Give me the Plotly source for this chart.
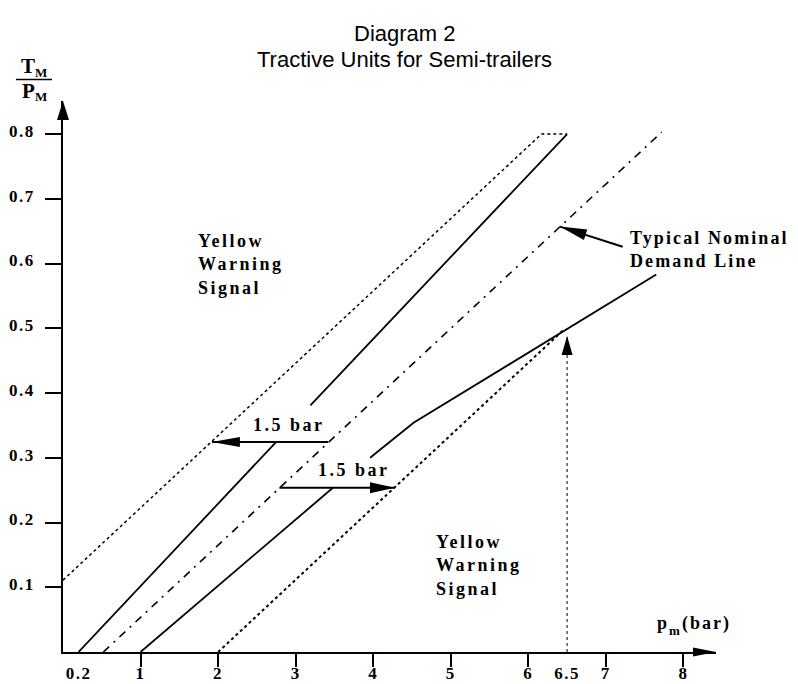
import math
import plotly.graph_objects as go

# ---------------- data ----------------
x_ticks = [1, 2, 3, 4, 5, 6, 7, 8]
x_tick_labels = ["1", "2", "3", "4", "5", "6", "7", "8"]
x_extra_ticks = [0.2, 6.5]
x_extra_labels = ["0.2", "6.5"]
y_ticks = [0.1, 0.2, 0.3, 0.4, 0.5, 0.6, 0.7, 0.8]
y_tick_labels = ["0.1", "0.2", "0.3", "0.4", "0.5", "0.6", "0.7", "0.8"]

x_axis_end = 8.42     # p_m axis arrow tip (bar)
y_axis_end = 0.851    # TM/PM axis arrow tip

upper_dotted_x = [0.0, 6.17, 6.5]
upper_dotted_y = [0.111, 0.8, 0.8]
upper_solid_x = [0.2, 2.75, None, 3.19, 6.5]
upper_solid_y = [0.0, 0.3245, None, 0.381, 0.8]
demand_x = [0.52, 7.72]
demand_y = [0.0, 0.803]
lower_solid_x = [1.0, 3.48, None, 3.96, 4.52, 7.65]
lower_solid_y = [0.0, 0.2536, None, 0.30, 0.354, 0.583]
lower_dotted_x = [2.0, 6.45]
lower_dotted_y = [0.0, 0.497]
pm_limit_x = [6.5, 6.5]
pm_limit_y = [0.0, 0.488]

# arrows: [tail, tip]
arrow_upper_x = [3.42, 1.92]
arrow_upper_y = [0.3245, 0.3245]
arrow_lower_x = [2.79, 4.28]
arrow_lower_y = [0.2536, 0.2536]
demand_arrow_x = [7.216, 6.407]
demand_arrow_y = [0.626, 0.657]

title_lines = ["Diagram 2", "Tractive Units for Semi-trailers"]
bar_label = "1.5 bar"
yellow_label = ["Yellow", "Warning", "Signal"]
demand_label = ["Typical Nominal", "Demand Line"]

# ---------------- geometry (page pixels) ----------------
PAGE_OFF = 8                 # default body margin of the html page
W, H = 798 - PAGE_OFF, 684 - PAGE_OFF
PL, PT = 63, 101             # plot-area left / top on the page
PW, PH = 653, 551            # plot-area size


def to_px(x, y):
    return PL + x / x_axis_end * PW, PT + PH - y / y_axis_end * PH


def px_to_paper(px, py):
    return (px - PL) / PW, (PT + PH - py) / PH


def head_shape(tail_x, tail_y, tip_x, tip_y, length, width):
    tx, ty = to_px(tip_x, tip_y)
    fx, fy = to_px(tail_x, tail_y)
    dx, dy = tx - fx, ty - fy
    n = math.hypot(dx, dy)
    ux, uy = dx / n, dy / n
    bx, by = tx - ux * length, ty - uy * length
    nx, ny = -uy, ux
    pts = [(tx, ty), (bx + nx * width / 2, by + ny * width / 2),
           (bx - nx * width / 2, by - ny * width / 2)]
    pp = [px_to_paper(a, b) for a, b in pts]
    path = "M{:.5f},{:.5f} L{:.5f},{:.5f} L{:.5f},{:.5f} Z".format(
        pp[0][0], pp[0][1], pp[1][0], pp[1][1], pp[2][0], pp[2][1])
    return dict(type="path", xref="paper", yref="paper", path=path,
                fillcolor="black", line=dict(width=0), layer="above")


def spaced(lines, sp=2.5, size=18):
    return "<br>".join(
        '<span style="letter-spacing:{}px;font-size:{}px">{}</span>'.format(sp, size, t)
        for t in lines)


def serif(size):
    return dict(family="Liberation Serif", size=size, color="black", weight="bold")


BOLD = serif(18)

fig = go.Figure()

fig.add_trace(go.Scatter(x=upper_dotted_x, y=upper_dotted_y, mode="lines",
                         line=dict(color="black", width=1.5, dash="dot")))
fig.add_trace(go.Scatter(x=upper_solid_x, y=upper_solid_y, mode="lines",
                         line=dict(color="black", width=1.8)))
fig.add_trace(go.Scatter(x=demand_x, y=demand_y, mode="lines",
                         line=dict(color="black", width=1.6, dash="8px,6px,2px,6px")))
fig.add_trace(go.Scatter(x=lower_solid_x, y=lower_solid_y, mode="lines",
                         line=dict(color="black", width=1.8)))
fig.add_trace(go.Scatter(x=lower_dotted_x, y=lower_dotted_y, mode="lines",
                         line=dict(color="black", width=2, dash="dot")))
fig.add_trace(go.Scatter(x=pm_limit_x, y=pm_limit_y, mode="lines", xaxis="x2",
                         line=dict(color="black", width=1, dash="dot")))
for ax_, ay_ in [(arrow_upper_x, arrow_upper_y), (arrow_lower_x, arrow_lower_y),
                 (demand_arrow_x, demand_arrow_y)]:
    fig.add_trace(go.Scatter(x=ax_, y=ay_, mode="lines",
                             line=dict(color="black", width=2)))

shapes = [
    head_shape(x_axis_end - 0.3, 0, x_axis_end, 0, 23, 9),
    head_shape(0, y_axis_end - 0.03, 0, y_axis_end, 19, 12),
    head_shape(arrow_upper_x[0], arrow_upper_y[0], arrow_upper_x[1], arrow_upper_y[1], 28, 10),
    head_shape(arrow_lower_x[0], arrow_lower_y[0], arrow_lower_x[1], arrow_lower_y[1], 25, 11),
    head_shape(demand_arrow_x[0], demand_arrow_y[0], demand_arrow_x[1], demand_arrow_y[1], 27, 11),
    head_shape(pm_limit_x[0], pm_limit_y[0], pm_limit_x[1], pm_limit_y[1], 19, 11),
]
# fraction bar of the TM/PM label
fx0, fy0 = px_to_paper(16, 79.5)
fx1, _ = px_to_paper(52, 79.5)
shapes.append(dict(type="line", xref="paper", yref="paper", x0=fx0, x1=fx1, y0=fy0, y1=fy0,
                   line=dict(color="black", width=1.3)))

ann = []


def page_text(text, px, py, font, xanchor="center"):
    tx, ty = px_to_paper(px, py)
    ann.append(dict(xref="paper", yref="paper", x=tx, y=ty, text=text, showarrow=False,
                    xanchor=xanchor, yanchor="middle", font=font))


# titles
for i, t in enumerate(title_lines):
    page_text(t, 405, 33 + 26 * i, dict(family="Liberation Sans", size=22, color="black"))
# TM / PM (letters with small subscripts)
page_text("T", 28, 66, serif(21))
page_text("M", 41, 73, serif(13))
page_text("P", 28, 91, serif(21))
page_text("M", 41, 97, serif(13))
# p_m (bar) axis label
page_text("p", 655, 623, BOLD, xanchor="left")
page_text("m", 667, 630, serif(13), xanchor="left")
page_text('<span style="letter-spacing:2px;font-size:18px">(bar)</span>', 680, 623, BOLD,
          xanchor="left")

# in-plot labels (data coordinates)
ann.append(dict(x=2.91, y=0.35, text=spaced([bar_label]), showarrow=False,
                xanchor="center", yanchor="middle", font=BOLD))
ann.append(dict(x=3.75, y=0.281, text=spaced([bar_label]), showarrow=False,
                xanchor="center", yanchor="middle", font=BOLD))
ann.append(dict(x=1.72, y=0.598, text=spaced(yellow_label), showarrow=False,
                xanchor="left", yanchor="middle", align="left", font=BOLD))
ann.append(dict(x=4.79, y=0.134, text=spaced(yellow_label), showarrow=False,
                xanchor="left", yanchor="middle", align="left", font=BOLD))
ann.append(dict(x=7.28, y=0.621, text=spaced(demand_label, 2.1), showarrow=False,
                xanchor="left", yanchor="middle", align="left", font=BOLD))

TICKFONT = serif(17)


def tick_text(labels):
    return ['<span style="letter-spacing:1.5px">{}</span>'.format(t) for t in labels]


# all x labels (with and without tick marks) drawn by the overlay axis
x_label_pairs = sorted(zip(x_ticks + x_extra_ticks, x_tick_labels + x_extra_labels))
x_label_vals = [v for v, _ in x_label_pairs]
x_label_text = tick_text([t for _, t in x_label_pairs])

fig.update_layout(
    width=W, height=H,
    margin=dict(l=PL - PAGE_OFF, r=W - (PL - PAGE_OFF) - PW,
                t=PT - PAGE_OFF, b=H - (PT - PAGE_OFF) - PH, pad=0, autoexpand=False),
    paper_bgcolor="white", plot_bgcolor="white",
    showlegend=False,
    shapes=shapes, annotations=ann,
    xaxis=dict(range=[0, x_axis_end], tickvals=x_ticks, showticklabels=False,
               ticks="outside", ticklen=13, tickwidth=1.5, tickcolor="black",
               showline=True, linecolor="black", linewidth=1.5, automargin=False,
               showgrid=False, zeroline=False, fixedrange=True),
    xaxis2=dict(range=[0, x_axis_end], overlaying="x", anchor="y", side="bottom",
                tickvals=x_label_vals, ticktext=x_label_text,
                ticks="outside", ticklen=6, tickwidth=1, tickcolor="rgba(0,0,0,0)",
                showline=False, showgrid=False, zeroline=False, tickfont=TICKFONT,
                automargin=False, fixedrange=True),
    yaxis=dict(range=[0, y_axis_end], tickvals=y_ticks, ticktext=tick_text(y_tick_labels),
               ticks="outside", ticklen=16, tickwidth=1.5, tickcolor="black",
               showline=True, linecolor="black", linewidth=1.5, automargin=False,
               showgrid=False, zeroline=False, tickfont=TICKFONT,
               ticklabelstandoff=7, ticklabelshift=-3, fixedrange=True),
)

fig.write_html("out.html")
